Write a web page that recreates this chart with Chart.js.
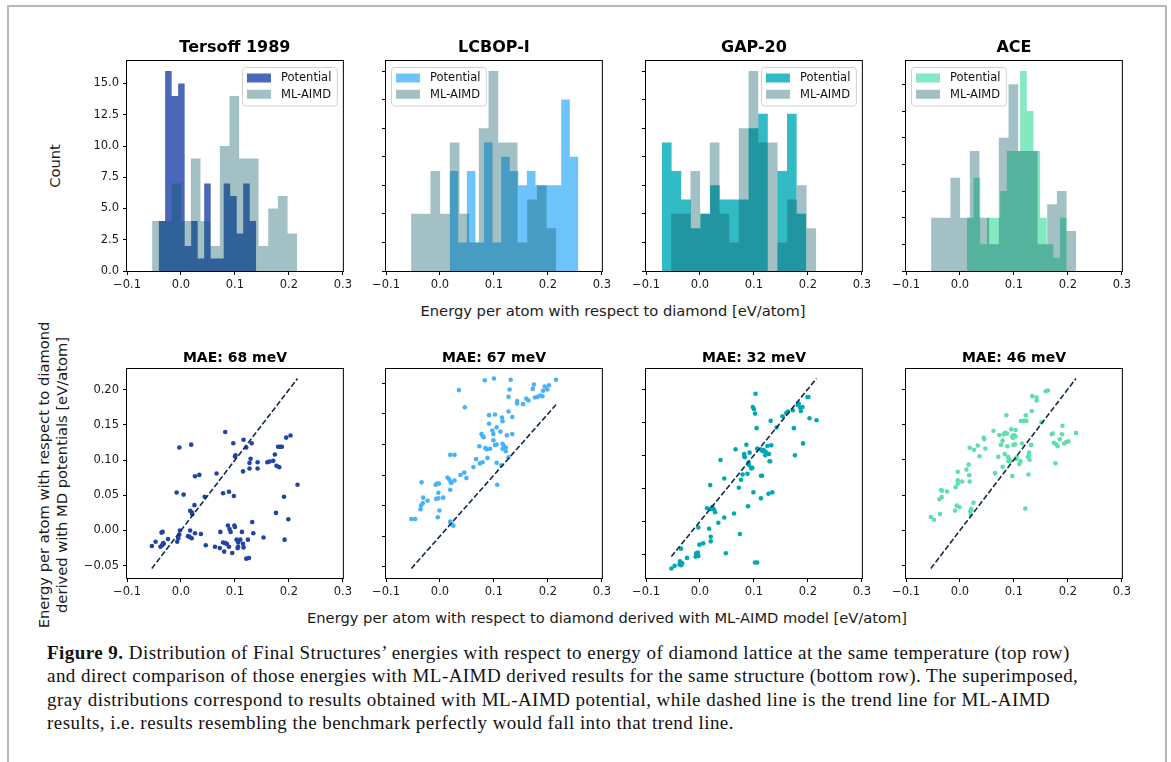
<!DOCTYPE html>
<html lang="en">
<head>
<meta charset="UTF-8">
<title>Figure 9</title>
<script src="https://cdn.jsdelivr.net/npm/chart.js"></script>
<style>
  body { margin: 0; background: #fff; font-family: "DejaVu Sans", sans-serif; }
  #page { position: relative; width: 1171px; height: 762px; overflow: hidden; background: #fff; }
  #frame { position: absolute; left: 7px; top: 5px; width: 1160px; height: 820px;
           border: 2px solid #b8b8b8; border-bottom: none; box-sizing: border-box; }
  canvas { position: absolute; }
  .lbl { position: absolute; white-space: nowrap; font-size: 14.7px; color: #1a1a1a;
         transform: translate(-50%, -50%); }
  .rot { transform: translate(-50%, -50%) rotate(-90deg); text-align: center; line-height: 18px; }
  #caption { position: absolute; left: 47px; top: 641px; font-family: "Liberation Serif", serif;
             font-size: 19px; line-height: 23.4px; color: #111; letter-spacing: 0.45px; }
  #caption div { white-space: nowrap; }
</style>
</head>
<body>
<div id="page">
  <div id="frame"></div>

  <div class="lbl rot" style="left:55px; top:166px;">Count</div>
  <div class="lbl" style="left:613px; top:310px;">Energy per atom with respect to diamond [eV/atom]</div>
  <div class="lbl rot" style="left:53px; top:475px;">Energy per atom with respect to diamond<br>derived with MD potentials [eV/atom]</div>
  <div class="lbl" style="left:607px; top:617px;">Energy per atom with respect to diamond derived with ML-AIMD model [eV/atom]</div>

  <div id="caption">
    <div><b>Figure 9.</b> Distribution of Final Structures’ energies with respect to energy of diamond lattice at the same temperature (top row)</div>
    <div>and direct comparison of those energies with ML-AIMD derived results for the same structure (bottom row). The superimposed,</div>
    <div>gray distributions correspond to results obtained with ML-AIMD potential, while dashed line is the trend line for ML-AIMD</div>
    <div>results, i.e. results resembling the benchmark perfectly would fall into that trend line.</div>
  </div>
</div>

<script>
  // ---- data ----
  const potentials = ['Tersoff 1989', 'LCBOP-I', 'GAP-20', 'ACE'];
  const maeMeV = [68, 67, 32, 46];

  const xTicks = [-0.1, 0.0, 0.1, 0.2, 0.3];
  const countTicksTersoff = [0, 2.5, 5, 7.5, 10, 12.5, 15];
  const countTicks = [0, 2, 4, 6, 8, 10, 12, 14];
  const energyTicks = [-0.05, 0, 0.05, 0.1, 0.15, 0.2, 0.25];

  // histograms: 15 equal bins between [min, max]
  const aimdRange = [-0.0535, 0.2155];
  const aimdCounts = [4, 4, 7, 4, 9, 4, 2, 10, 14, 9, 9, 2, 5, 6, 3];

  const tersoffRange = [-0.0414, 0.1395];
  const tersoffCounts = [4, 16, 14, 15, 2, 4, 1, 7, 1, 1, 7, 6, 3, 7, 4];
  const lcbopRange = [0.018, 0.2565];
  const lcbopCounts = [7, 2, 7, 2, 9, 2, 8, 7, 6, 7, 6, 6, 6, 12, 8];
  const gapRange = [-0.0704, 0.197];
  const gapCounts = [9, 7, 5, 3, 4, 6, 5, 5, 5, 10, 11, 0, 7, 11, 4];
  const aceRange = [0.0128, 0.1978];
  const aceCounts = [4, 7, 2, 4, 4, 6, 9, 9, 15, 12, 9, 4, 2, 1, 4];

  // scatter: [ML-AIMD energy, potential energy]
  const tersoffPairs = [[-0.054,-0.022],[-0.047,-0.016],[-0.038,-0.023],[-0.035,-0.021],[-0.033,-0.018],[-0.036,-0.003],[-0.034,-0.002],[-0.032,-0.019],[-0.024,-0.012],[-0.008,0.054],[-0.007,-0.016],[-0.005,-0.011],[-0.003,-0.006],[-0.002,0.000],[-0.003,0.118],[0.005,0.051],[0.013,-0.008],[0.017,0.000],[0.016,-0.009],[0.020,-0.011],[0.019,0.122],[0.017,0.028],[0.020,0.026],[0.021,0.023],[0.025,0.036],[0.026,-0.004],[0.026,0.077],[0.034,0.079],[0.037,-0.005],[0.044,0.048],[0.046,-0.021],[0.063,-0.023],[0.066,0.081],[0.072,-0.025],[0.073,-0.002],[0.078,-0.017],[0.078,0.053],[0.080,-0.030],[0.082,0.140],[0.082,-0.018],[0.085,-0.019],[0.087,0.007],[0.089,0.055],[0.089,-0.023],[0.090,0.002],[0.092,-0.002],[0.095,-0.032],[0.097,0.124],[0.098,0.049],[0.099,0.007],[0.100,0.005],[0.100,0.105],[0.101,0.107],[0.103,-0.013],[0.105,-0.025],[0.106,-0.023],[0.106,-0.017],[0.110,-0.013],[0.113,-0.002],[0.115,0.084],[0.116,0.129],[0.115,-0.019],[0.116,-0.024],[0.121,0.118],[0.121,-0.040],[0.124,-0.013],[0.126,-0.039],[0.127,0.096],[0.127,0.088],[0.129,0.102],[0.131,0.124],[0.132,0.012],[0.134,-0.004],[0.142,0.097],[0.142,0.088],[0.153,-0.010],[0.160,0.097],[0.164,0.098],[0.171,0.099],[0.174,0.108],[0.176,0.025],[0.177,0.092],[0.180,0.119],[0.182,0.090],[0.184,0.119],[0.187,0.119],[0.191,0.048],[0.192,-0.013],[0.195,0.132],[0.199,0.016],[0.203,0.135],[0.216,0.065]];

  const lcbopPairs = [[-0.053,0.028],[-0.046,0.028],[-0.036,0.044],[-0.035,0.050],[-0.034,0.088],[-0.031,0.063],[-0.032,0.054],[-0.023,0.058],[-0.008,0.084],[-0.005,0.086],[-0.002,0.086],[-0.007,0.061],[-0.003,0.062],[-0.003,0.071],[-0.001,0.042],[-0.004,0.031],[0.006,0.063],[0.014,0.096],[0.017,0.093],[0.019,0.076],[0.020,0.088],[0.021,0.087],[0.027,0.091],[0.019,0.133],[0.027,0.133],[0.019,0.024],[0.022,0.019],[0.025,0.017],[0.020,0.021],[0.035,0.239],[0.038,0.100],[0.045,0.104],[0.046,0.211],[0.049,0.095],[0.062,0.113],[0.067,0.126],[0.073,0.147],[0.074,0.119],[0.077,0.167],[0.079,0.121],[0.079,0.164],[0.081,0.162],[0.083,0.255],[0.084,0.144],[0.087,0.142],[0.088,0.128],[0.091,0.184],[0.091,0.198],[0.093,0.143],[0.097,0.173],[0.099,0.157],[0.099,0.167],[0.100,0.258],[0.102,0.199],[0.102,0.149],[0.105,0.178],[0.105,0.150],[0.105,0.120],[0.106,0.084],[0.112,0.171],[0.114,0.116],[0.115,0.194],[0.116,0.188],[0.116,0.151],[0.116,0.143],[0.119,0.147],[0.122,0.139],[0.122,0.145],[0.124,0.165],[0.127,0.129],[0.127,0.228],[0.127,0.204],[0.129,0.240],[0.131,0.256],[0.134,0.167],[0.134,0.195],[0.143,0.221],[0.143,0.217],[0.154,0.216],[0.160,0.225],[0.164,0.222],[0.172,0.241],[0.174,0.248],[0.176,0.227],[0.181,0.228],[0.186,0.230],[0.190,0.229],[0.191,0.238],[0.194,0.245],[0.199,0.240],[0.202,0.247],[0.215,0.256]];

  const gapPairs = [[-0.053,-0.071],[-0.047,-0.067],[-0.038,-0.065],[-0.037,-0.060],[-0.035,-0.066],[-0.033,-0.063],[-0.035,-0.041],[-0.024,-0.055],[-0.008,-0.053],[-0.007,-0.048],[-0.004,-0.047],[-0.003,-0.052],[-0.003,-0.009],[-0.001,-0.035],[0.006,-0.033],[0.013,0.020],[0.017,-0.011],[0.019,0.055],[0.020,-0.023],[0.020,0.019],[0.020,-0.030],[0.023,0.022],[0.026,0.018],[0.028,0.014],[0.034,-0.002],[0.038,0.093],[0.045,0.065],[0.045,0.006],[0.048,-0.048],[0.063,0.012],[0.066,0.109],[0.072,0.051],[0.074,-0.019],[0.076,0.063],[0.079,0.071],[0.082,0.102],[0.083,0.097],[0.086,0.116],[0.088,0.072],[0.089,0.023],[0.090,0.089],[0.091,0.085],[0.092,0.104],[0.095,0.080],[0.097,0.081],[0.098,0.173],[0.100,0.170],[0.102,0.163],[0.103,0.193],[0.099,0.044],[0.102,-0.062],[0.106,-0.062],[0.105,0.141],[0.106,0.110],[0.113,0.035],[0.113,0.069],[0.115,0.069],[0.116,0.106],[0.118,0.108],[0.120,0.106],[0.123,0.104],[0.125,0.114],[0.128,0.102],[0.129,0.091],[0.132,0.115],[0.130,0.091],[0.127,0.042],[0.134,0.044],[0.131,0.152],[0.142,0.142],[0.153,0.159],[0.160,0.164],[0.163,0.166],[0.172,0.168],[0.174,0.141],[0.176,0.100],[0.181,0.176],[0.183,0.178],[0.187,0.167],[0.186,0.172],[0.190,0.173],[0.191,0.118],[0.199,0.188],[0.201,0.188],[0.203,0.156],[0.216,0.153],[0.082,0.099],[0.112,0.109],[0.121,0.100]];

  const acePairs = [[-0.054,0.019],[-0.048,0.015],[-0.037,0.023],[-0.038,0.044],[-0.035,0.057],[-0.033,0.056],[-0.034,0.047],[-0.024,0.055],[-0.009,0.028],[-0.006,0.035],[-0.001,0.033],[-0.008,0.061],[-0.004,0.066],[-0.004,0.071],[-0.004,0.083],[0.004,0.069],[0.012,0.086],[0.016,0.093],[0.017,0.078],[0.018,0.069],[0.018,0.117],[0.026,0.114],[0.019,0.027],[0.021,0.030],[0.025,0.039],[0.020,0.022],[0.033,0.120],[0.036,0.105],[0.045,0.129],[0.047,0.116],[0.044,0.131],[0.065,0.081],[0.062,0.141],[0.071,0.104],[0.073,0.135],[0.076,0.121],[0.079,0.127],[0.081,0.136],[0.084,0.138],[0.086,0.163],[0.087,0.137],[0.088,0.119],[0.083,0.108],[0.079,0.090],[0.089,0.104],[0.090,0.098],[0.091,0.101],[0.093,0.098],[0.095,0.143],[0.097,0.133],[0.097,0.077],[0.098,0.131],[0.099,0.121],[0.100,0.135],[0.102,0.122],[0.103,0.142],[0.103,0.133],[0.104,0.101],[0.105,0.103],[0.110,0.094],[0.112,0.098],[0.115,0.123],[0.113,0.155],[0.119,0.155],[0.123,0.155],[0.122,0.163],[0.126,0.104],[0.128,0.110],[0.128,0.106],[0.127,0.079],[0.129,0.100],[0.121,0.031],[0.132,0.121],[0.133,0.169],[0.134,0.190],[0.142,0.188],[0.142,0.184],[0.151,0.153],[0.159,0.197],[0.163,0.198],[0.170,0.136],[0.172,0.137],[0.174,0.124],[0.177,0.095],[0.178,0.122],[0.181,0.119],[0.185,0.129],[0.189,0.136],[0.190,0.148],[0.193,0.123],[0.197,0.125],[0.201,0.126],[0.215,0.138]];

  const potRanges = [tersoffRange, lcbopRange, gapRange, aceRange];
  const potCounts = [tersoffCounts, lcbopCounts, gapCounts, aceCounts];
  const potPairs = [tersoffPairs, lcbopPairs, gapPairs, acePairs];

  // ---- style ----
  const histColors = ['#4a67b9', '#6cc4fb', '#32bac5', '#84e8c0'];
  const dotColors = ['#2143a4', '#48b2f8', '#00a8b4', '#5fdfab'];
  const aimdColor = 'rgba(6, 87, 98, 0.37)';
  const legendSide = ['right', 'left', 'right', 'left'];
  const panelLeft = [127, 386, 646, 906];
  const plotW = 216;
  const tickFont = { family: 'DejaVu Sans', size: 11.5 };

  Chart.defaults.font.family = 'DejaVu Sans';

  const fmt = (v, d) => (v < -1e-9 ? '\u2212' : '') + Math.abs(v).toFixed(d);
  const setTicks = (s, list) => {
    s.ticks = list.filter(v => v >= s.min - 1e-9 && v <= s.max + 1e-9).map(v => ({ value: v }));
  };

  function histSteps(range, counts) {
    const w = (range[1] - range[0]) / counts.length;
    const pts = counts.map((c, i) => ({ x: range[0] + i * w, y: c }));
    pts.push({ x: range[1], y: counts[counts.length - 1] });
    return pts;
  }

  // spines + matplotlib-like legend box
  const frameLegend = {
    id: 'frameLegend',
    afterDatasetsDraw(chart, args, opts) {
      const { ctx, chartArea: a } = chart;
      ctx.save();
      ctx.strokeStyle = '#000';
      ctx.lineWidth = 1;
      ctx.strokeRect(a.left - 0.5, a.top - 0.5, a.width + 1, a.height + 1);
      if (opts.side) {
        const items = chart.data.datasets.filter(d => d.label);
        ctx.font = '11.5px "DejaVu Sans"';
        const tw = Math.max(...items.map(d => ctx.measureText(d.label).width));
        const w = 38.5 + tw + 6, h = 38.5;
        const x = opts.side === 'right' ? a.right - 5.5 - w : a.left + 5.5;
        const y = a.top + 6.5;
        ctx.beginPath();
        ctx.roundRect(x, y, w, h, 3);
        ctx.fillStyle = 'rgba(255,255,255,0.8)';
        ctx.fill();
        ctx.strokeStyle = '#d0d0d0';
        ctx.stroke();
        items.forEach((d, i) => {
          const cy = y + 10.5 + i * 16.3;
          ctx.fillStyle = d.backgroundColor;
          ctx.fillRect(x + 4.5, cy - 4.5, 24, 9);
          ctx.fillStyle = '#111';
          ctx.textBaseline = 'middle';
          ctx.fillText(d.label, x + 38.5, cy + 0.5);
        });
      }
      ctx.restore();
    }
  };

  function addCanvas(left, top, w, h) {
    const c = document.createElement('canvas');
    c.width = w; c.height = h;
    c.style.left = left + 'px';
    c.style.top = top + 'px';
    document.getElementById('page').appendChild(c);
    return c;
  }

  function xScale() {
    return {
      type: 'linear', min: -0.1, max: 0.3,
      afterBuildTicks: s => setTicks(s, xTicks),
      afterFit: s => { s.height = 24; },
      grid: { drawOnChartArea: false, tickLength: 4, color: '#000' },
      border: { display: false },
      ticks: { font: tickFont, color: '#1a1a1a', padding: 3, maxRotation: 0, autoSkip: false,
               callback: v => fmt(v, 1) }
    };
  }

  function titleOpts(text, size, top) {
    return { display: true, text, fullSize: false, color: '#000',
             font: { size, weight: 'bold', lineHeight: 1 },
             padding: { top, bottom: 32 - size - top } };
  }

  // ---- top row: histograms ----
  potentials.forEach((name, i) => {
    const top = 61, h = 210;
    const canvas = addCanvas(panelLeft[i] - 50, top - 32, 50 + plotW + 12, 32 + h + 24);
    const maxCount = Math.max(...potCounts[i], ...aimdCounts);
    new Chart(canvas, {
      type: 'line',
      data: {
        datasets: [
          { label: 'Potential', data: histSteps(potRanges[i], potCounts[i]), stepped: true, fill: 'origin',
            backgroundColor: histColors[i], borderColor: 'rgba(0,0,0,0)', borderWidth: 0, pointRadius: 0, order: 1 },
          { label: 'ML-AIMD', data: histSteps(aimdRange, aimdCounts), stepped: true, fill: 'origin',
            backgroundColor: aimdColor, borderColor: 'rgba(0,0,0,0)', borderWidth: 0, pointRadius: 0, order: 0 }
        ]
      },
      options: {
        responsive: false, animation: false, devicePixelRatio: 1,
        layout: { padding: { left: 0, right: 12, top: 0, bottom: 0 } },
        plugins: {
          legend: { display: false }, tooltip: { enabled: false },
          title: titleOpts(name, 16, 11),
          frameLegend: { side: legendSide[i] }
        },
        scales: {
          x: xScale(),
          y: {
            type: 'linear', min: 0, max: maxCount * 1.05,
            afterBuildTicks: s => setTicks(s, i === 0 ? countTicksTersoff : countTicks),
            afterFit: s => { s.width = 50; },
            grid: { drawOnChartArea: false, tickLength: 4, color: '#000' },
            border: { display: false },
            ticks: { display: i === 0, font: tickFont, color: '#1a1a1a', padding: 4,
                     callback: v => fmt(v, 1) }
          }
        }
      },
      plugins: [frameLegend]
    });
  });

  // ---- bottom row: scatter vs ML-AIMD ----
  potentials.forEach((name, i) => {
    const top = 369, h = 209;
    const canvas = addCanvas(panelLeft[i] - 50, top - 32, 50 + plotW + 12, 32 + h + 24);
    const pts = potPairs[i].map(([x, y]) => ({ x, y }));
    const xs = pts.map(p => p.x);
    const lo0 = Math.min(...xs), hi0 = Math.max(...xs);
    const trend = [{ x: lo0, y: lo0 }, { x: hi0, y: hi0 }];
    const ys = pts.map(p => p.y).concat([lo0, hi0]);
    const lo = Math.min(...ys), hi = Math.max(...ys), pad = 0.05 * (hi - lo);
    new Chart(canvas, {
      type: 'scatter',
      data: {
        datasets: [
          { type: 'line', data: trend, borderColor: '#13294b', borderWidth: 1.6, borderDash: [5.5, 2.4],
            pointRadius: 0, fill: false, order: 0 },
          { data: pts, backgroundColor: dotColors[i], borderWidth: 0, pointRadius: 2.3, order: 1, clip: false }
        ]
      },
      options: {
        responsive: false, animation: false, devicePixelRatio: 1,
        layout: { padding: { left: 0, right: 12, top: 0, bottom: 0 } },
        plugins: {
          legend: { display: false }, tooltip: { enabled: false },
          title: titleOpts('MAE: ' + maeMeV[i] + ' meV', 14, 14),
          frameLegend: {}
        },
        scales: {
          x: xScale(),
          y: {
            type: 'linear', min: lo - pad, max: hi + pad,
            afterBuildTicks: s => setTicks(s, energyTicks),
            afterFit: s => { s.width = 50; },
            grid: { drawOnChartArea: false, tickLength: 4, color: '#000' },
            border: { display: false },
            ticks: { display: i === 0, font: tickFont, color: '#1a1a1a', padding: 4,
                     callback: v => fmt(v, 2) }
          }
        }
      },
      plugins: [frameLegend]
    });
  });
</script>
</body>
</html>
